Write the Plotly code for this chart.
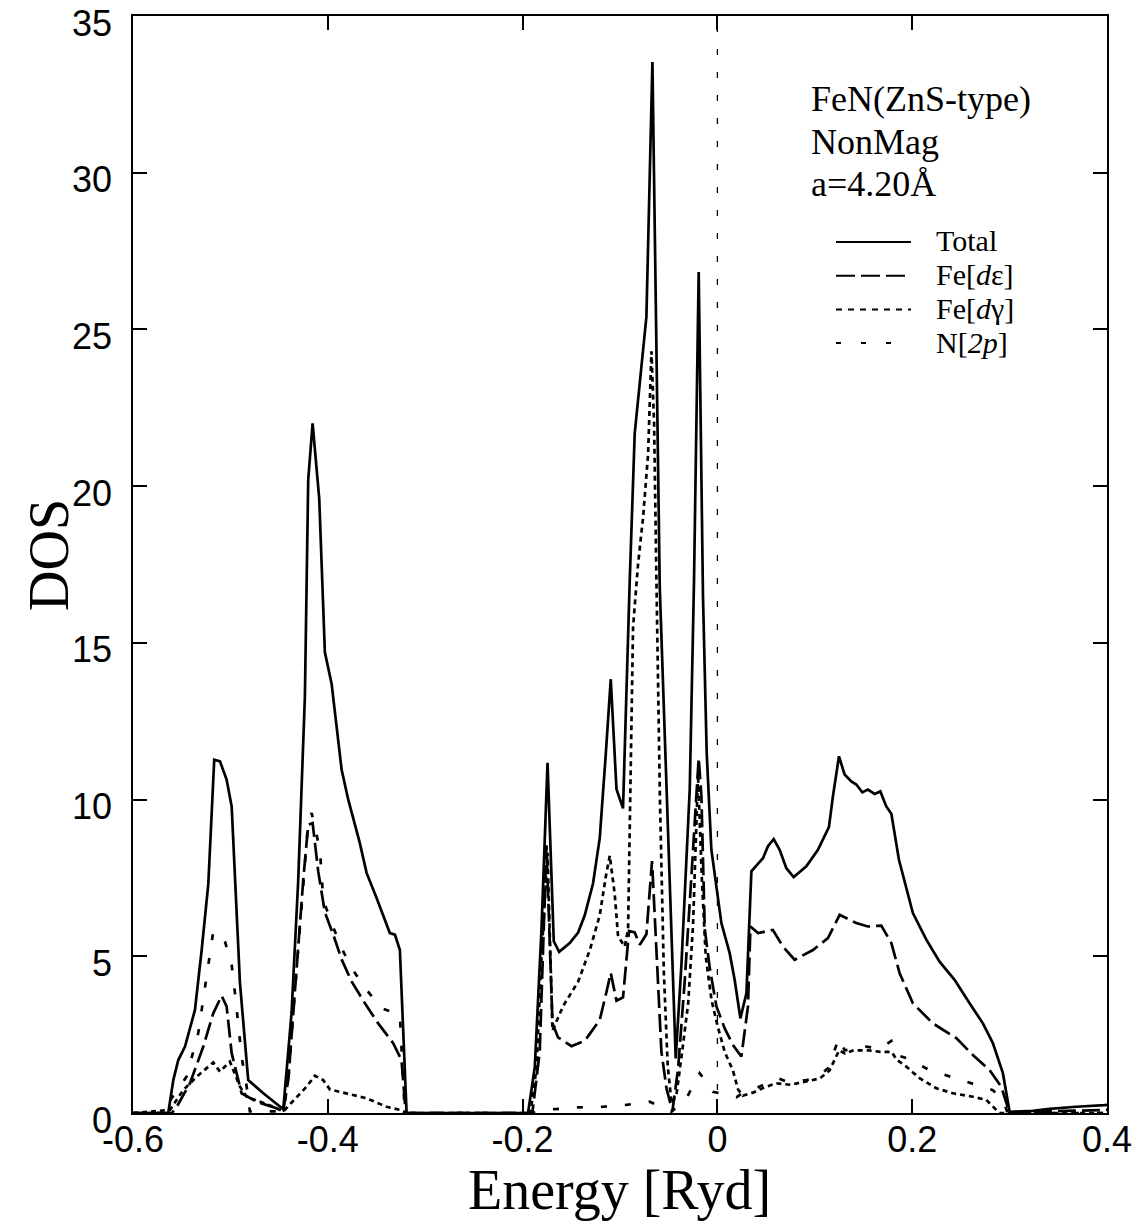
import plotly.graph_objects as go

# ---------------- data ----------------
E_total = [-0.600, -0.5638, -0.5586, -0.5535, -0.5466, -0.5364, -0.5295, -0.5227, -0.5166, -0.5107,
           -0.5039, -0.4987, -0.4902, -0.4817, -0.4662, -0.4457, -0.4372, -0.4304, -0.4235, -0.4201,
           -0.4156, -0.4088, -0.4030, -0.3961, -0.3858, -0.3790, -0.3671, -0.3602, -0.3499, -0.3363,
           -0.3311, -0.3260, -0.3191, -0.1944, -0.1875, -0.1806, -0.1744, -0.1680, -0.1625, -0.1516,
           -0.1430, -0.1362, -0.1277, -0.1208, -0.1146, -0.1095, -0.1036, -0.0969, -0.0900, -0.0849,
           -0.0729, -0.0667, -0.0592, -0.0428, -0.0369, -0.0284, -0.0240, -0.0192, -0.0148, -0.0110,
           -0.0062, 0.0041, 0.0126, 0.0177, 0.0236, 0.0298, 0.0349, 0.0468, 0.0519, 0.0578,
           0.0639, 0.0708, 0.0783, 0.0913, 0.1032, 0.1145, 0.1186, 0.1248, 0.1306, 0.1375,
           0.1426, 0.1488, 0.1545, 0.1614, 0.1673, 0.1734, 0.1786, 0.1864, 0.2007, 0.2145,
           0.2281, 0.2435, 0.2589, 0.2726, 0.2828, 0.2931, 0.3000, 0.3239, 0.3410, 0.3684,
           0.3974, 0.4000]
DOS_total = [0.0, 0.0, 1.05, 1.69, 2.12, 3.29, 5.20, 7.30, 11.27, 11.22,
             10.64, 9.78, 4.15, 1.05, 0.63, 0.12, 3.20, 7.40, 13.3, 20.2,
             22.0, 19.6, 14.7, 13.7, 10.95, 10.0, 8.61, 7.66, 6.86, 5.74,
             5.69, 5.20, 0.0, 0.0, 1.46, 5.87, 11.17, 5.48, 5.14, 5.42,
             5.76, 6.31, 7.32, 8.77, 11.45, 13.84, 10.33, 9.72, 17.0, 21.68,
             25.4, 33.53, 16.8, 1.74, 4.75, 10.33, 17.0, 26.83, 16.5, 11.5,
             8.4, 6.06, 5.1, 4.25, 3.02, 3.82, 7.71, 8.13, 8.51, 8.74,
             8.40, 7.81, 7.53, 7.87, 8.40, 9.12, 10.1, 11.38, 10.8, 10.58,
             10.48, 10.23, 10.32, 10.18, 10.26, 9.78, 9.55, 8.08, 6.38, 5.53,
             4.83, 4.25, 3.5, 2.86, 2.23, 1.27, 0.04, 0.07, 0.13, 0.20,
             0.25, 0.26]

E_de = [-0.600, -0.5600, -0.5550, -0.5415, -0.5278, -0.5176, -0.5090, -0.5039, -0.4987, -0.4885,
        -0.4730, -0.4457, -0.4406, -0.4355, -0.4304, -0.4252, -0.4201, -0.4156, -0.4098, -0.4030,
        -0.3945, -0.3858, -0.3756, -0.3619, -0.3483, -0.3329, -0.3243, -0.3200, -0.1900, -0.1824,
        -0.1755, -0.1693, -0.1636, -0.1498, -0.1362, -0.1208, -0.1139, -0.1095, -0.1036, -0.0969,
        -0.0907, -0.0849, -0.0797, -0.0729, -0.0671, -0.0626, -0.0575, -0.0523, -0.0462, -0.0404,
        -0.0336, -0.0267, -0.0215, -0.0192, -0.0164, -0.0130, -0.0079, -0.0010, 0.0075, 0.0160,
        0.0246, 0.0314, 0.0339, 0.0417, 0.0570, 0.0673, 0.0793, 0.0981, 0.1135, 0.1255,
        0.1426, 0.1545, 0.1683, 0.1786, 0.1871, 0.2007, 0.2212, 0.2453, 0.2623, 0.2794,
        0.2914, 0.3000, 0.3400, 0.4000]
DOS_de = [0.0, 0.0, 0.2, 0.95, 2.12, 3.18, 3.74, 3.4, 1.91, 0.63,
          0.36, 0.08, 1.05, 3.18, 5.31, 7.44, 9.2, 9.25, 7.7, 6.4,
          5.7, 4.9, 4.2, 3.5, 2.86, 2.23, 1.69, 0.0, 0.0, 1.96,
          8.54, 2.86, 2.41, 2.13, 2.3, 2.97, 3.86, 4.47, 3.58, 3.69,
          5.81, 5.76, 5.37, 5.7, 8.04, 5.2, 1.96, 0.79, 0.06, 1.4,
          4.19, 7.54, 10.44, 11.33, 10.1, 5.87, 4.64, 3.4, 2.7, 2.17,
          1.8, 3.4, 5.95, 5.74, 5.84, 5.31, 4.89, 5.2, 5.58, 6.32,
          6.06, 5.95, 5.98, 5.42, 4.46, 3.5, 2.86, 2.39, 1.85, 1.37,
          0.84, 0.0, 0.05, 0.1]

E_dg = [-0.600, -0.5620, -0.5484, -0.5346, -0.5176, -0.5107, -0.5005, -0.4902, -0.4833, -0.4697,
        -0.4560, -0.4457, -0.4320, -0.4218, -0.4132, -0.4047, -0.3978, -0.3807, -0.3602, -0.3397,
        -0.3260, -0.3200, -0.1920, -0.1858, -0.1806, -0.1744, -0.1693, -0.1584, -0.1430, -0.1310,
        -0.1208, -0.1146, -0.1105, -0.1054, -0.1020, -0.0951, -0.0917, -0.0866, -0.0815, -0.0763,
        -0.0712, -0.0677, -0.0650, -0.0626, -0.0590, -0.0550, -0.0510, -0.0470, -0.0420, -0.0360,
        -0.0300, -0.0250, -0.0199, -0.0160, -0.0120, -0.0060, 0.0000, 0.0075, 0.0160, 0.0212,
        0.0260, 0.0366, 0.0470, 0.0600, 0.0750, 0.0900, 0.1050, 0.1150, 0.1250, 0.1310,
        0.1400, 0.1550, 0.1670, 0.1790, 0.1840, 0.1940, 0.2076, 0.2247, 0.2418, 0.2623,
        0.2760, 0.2863, 0.2900, 0.4000]
DOS_dg = [0.0, 0.1, 0.73, 1.16, 1.61, 1.32, 1.64, 0.84, 0.52, 0.36,
          0.2, 0.05, 0.52, 0.84, 1.19, 1.05, 0.75, 0.62, 0.47, 0.2,
          0.1, 0.0, 0.0, 1.41, 5.0, 8.3, 2.63, 3.41, 4.19, 5.2,
          6.31, 7.54, 8.21, 6.98, 5.64, 5.31, 5.87, 15.5, 17.5, 19.0,
          21.0, 24.3, 22.0, 17.0, 10.0, 4.5, 1.5, 0.3, 0.6, 2.0,
          3.5, 6.0, 10.8, 7.5, 5.0, 3.6, 2.8, 1.95, 1.35, 0.75,
          0.55, 0.65, 0.8, 0.95, 0.9, 1.0, 1.1, 1.35, 2.0, 1.9,
          2.0, 2.0, 1.95, 1.95, 1.7, 1.48, 1.11, 0.79, 0.63, 0.52,
          0.42, 0.1, 0.0, 0.0]

E_np = [-0.600, -0.5638, -0.5620, -0.5450, -0.5330, -0.5244, -0.5176, -0.5056, -0.4987, -0.4953,
        -0.4919, -0.4885, -0.4833, -0.4800, -0.4457, -0.4406, -0.4355, -0.4304, -0.4252, -0.4201,
        -0.4166, -0.4081, -0.4047, -0.3961, -0.3858, -0.3756, -0.3602, -0.3448, -0.3260, -0.3210,
        -0.1909, -0.1687, -0.1430, -0.1174, -0.0934, -0.0695, -0.0472, -0.0318, -0.0182, -0.0045,
        0.0195, 0.0263, 0.0366, 0.0537, 0.0622, 0.0708, 0.0913, 0.1016, 0.1135, 0.1186,
        0.1248, 0.1306, 0.1392, 0.1529, 0.1666, 0.1786, 0.1837, 0.1940, 0.2179, 0.2418,
        0.2658, 0.2828, 0.2931, 0.2980, 0.4000]
DOS_np = [0.0, 0.0, 0.4, 1.16, 2.55, 4.35, 5.79, 5.47, 4.73, 3.82,
          2.86, 1.8, 0.84, 0.05, 0.05, 1.0, 3.2, 5.3, 7.4, 9.3,
          9.57, 8.4, 6.8, 6.06, 5.26, 4.62, 3.93, 3.34, 3.13, 0.0,
          0.0, 0.12, 0.18, 0.2, 0.26, 0.36, 0.04, 0.47, 1.27, 0.68,
          0.5, 0.65, 0.75, 1.0, 1.11, 1.0, 1.05, 1.11, 1.43, 1.85,
          2.4, 2.0, 2.05, 2.12, 2.05, 2.3, 1.85, 1.75, 1.37, 1.14,
          0.89, 0.73, 0.42, 0.0, 0.0]

fermi_level = [0.0, 0.0]
fermi_span = [0.0, 35.0]

x_ticks = [-0.6, -0.4, -0.2, 0.0, 0.2, 0.4]
x_ticktext = ["-0.6", "-0.4", "-0.2", "0", "0.2", "0.4"]
y_ticks = [0, 5, 10, 15, 20, 25, 30, 35]
y_ticktext = ["0", "5", "10", "15", "20", "25", "30", "35"]

series_names = ["Total", "Fe[<i>d</i>\u03b5]", "Fe[<i>d</i>\u03b3]", "N[<i>2p</i>]"]
info_lines = ["FeN(ZnS-type)", "NonMag", "a=4.20\u00c5"]

for a, b in [(E_total, DOS_total), (E_de, DOS_de), (E_dg, DOS_dg), (E_np, DOS_np)]:
    assert len(a) == len(b), (len(a), len(b))

# ---------------- styles ----------------
dashes = ["solid", "18px,6px", "5px,4px", "6px,18px"]
legend_dashes = ["solid", "19px,6px", "6px,6px", "5px,20px"]
serif = "Liberation Serif, Times New Roman, serif"
sans = "Liberation Sans, Arial, Helvetica, sans-serif"

fig = go.Figure()
fig.add_trace(go.Scatter(x=fermi_level, y=fermi_span, mode="lines",
                         line=dict(color="black", width=1.3, dash="6px,17px"),
                         showlegend=False, hoverinfo="skip"))
for (xs, ys), name, d in zip([(E_np, DOS_np), (E_dg, DOS_dg), (E_de, DOS_de), (E_total, DOS_total)],
                             series_names[::-1], dashes[::-1]):
    fig.add_trace(go.Scatter(x=xs, y=ys, mode="lines", name=name,
                             line=dict(color="black", width=2.7, dash=d),
                             showlegend=False))

# legend drawn by hand (long samples as in the reference)
L, R, T, B = 133, 1107, 16, 1113
W, H = R - L, B - T
px = lambda p: (p - L) / W
py = lambda p: (B - p) / H
shapes = []
annotations = []
for i, (name, d) in enumerate(zip(series_names, legend_dashes)):
    yy = 242 + i * 33.7
    shapes.append(dict(type="line", xref="paper", yref="paper",
                       x0=px(836), x1=px(911), y0=py(yy), y1=py(yy),
                       line=dict(color="black", width=2, dash=d)))
    annotations.append(dict(x=px(934), y=py(yy - 1), xref="paper", yref="paper",
                            text=name, showarrow=False, xanchor="left", yanchor="middle",
                            font=dict(family=serif, size=30, color="black")))
for i, t in enumerate(info_lines):
    annotations.append(dict(x=px(809), y=py(99 + i * 42.5), xref="paper", yref="paper",
                            text=t, showarrow=False, xanchor="left", yanchor="middle",
                            font=dict(family=serif, size=36, color="black")))
annotations.append(dict(x=px(49), y=py(555), xref="paper", yref="paper", text="DOS",
                        textangle=-90, showarrow=False, xanchor="center", yanchor="middle",
                        font=dict(family=serif, size=56, color="black")))
annotations.append(dict(x=px(619), y=py(1190), xref="paper", yref="paper", text="Energy [Ryd]",
                        showarrow=False, xanchor="center", yanchor="middle",
                        font=dict(family=serif, size=56, color="black")))

axis_common = dict(showline=True, linecolor="black", linewidth=1.5, mirror="allticks",
                   ticks="inside", ticklen=14, tickwidth=1.5, tickcolor="black",
                   showgrid=False, zeroline=False, ticklabeloverflow="allow", automargin=False,
                   tickfont=dict(family=sans, size=36, color="black"))
fig.update_layout(
    width=1141, height=1222,
    margin=dict(l=L, r=1141 - R, t=T, b=1222 - B),
    paper_bgcolor="white", plot_bgcolor="white",
    xaxis=dict(range=[-0.6, 0.4], tickvals=x_ticks, ticktext=x_ticktext,
               ticklabelstandoff=-6, **axis_common),
    yaxis=dict(range=[0, 35], tickvals=y_ticks, ticktext=y_ticktext,
               ticklabelstandoff=12, ticklabelshift=7, **axis_common),
    shapes=shapes, annotations=annotations, showlegend=False,
)
fig.write_html("out.html")
